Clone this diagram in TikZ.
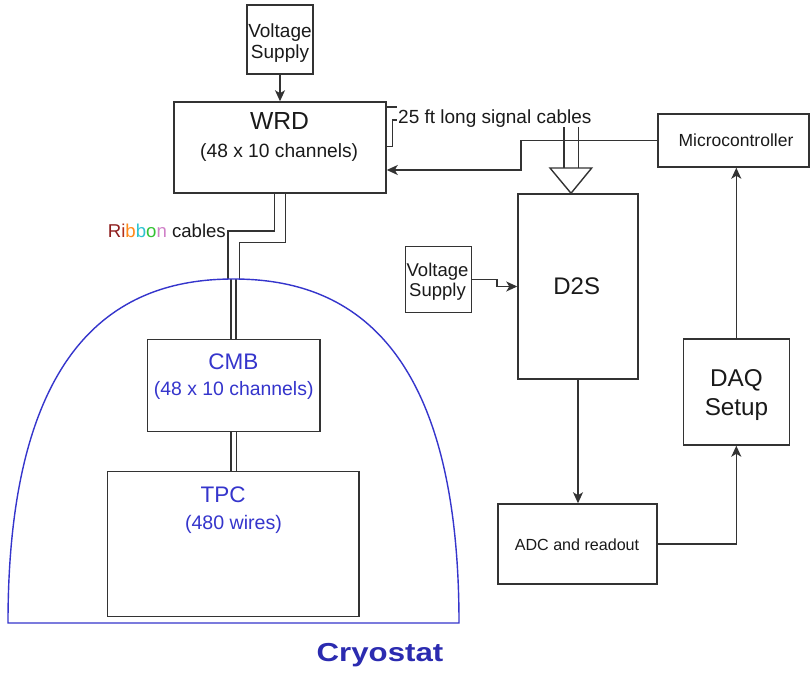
\documentclass[tikz,border=0pt]{standalone}
\usepackage{fontspec}
\setmainfont{Liberation Sans}
\usepackage{graphicx}
\usetikzlibrary{arrows.meta,calc}
\definecolor{Ink}{HTML}{1A1A1A}
\definecolor{Edge}{HTML}{333333}
\definecolor{CryoBlue}{HTML}{3535CC}
\definecolor{TitleBlue}{HTML}{2B2BB0}
\definecolor{RibR}{HTML}{8E1E1E}
\definecolor{RibI}{HTML}{B0301C}
\definecolor{RibB}{HTML}{FF8A1A}
\definecolor{RibC}{HTML}{2EC4D0}
\definecolor{RibG}{HTML}{33C233}
\definecolor{RibP}{HTML}{D080C8}
\newcommand\fsz[1]{\fontsize{#1}{#1}\selectfont}
\tikzset{
  box/.style={draw=Edge, line width=1.5pt, fill=white, inner sep=0pt},
  txt/.style={anchor=base, inner sep=0pt, text=Ink},
  bluetxt/.style={anchor=base, inner sep=0pt, text=CryoBlue},
  flow/.style={-{Stealth[length=11pt,width=10pt,inset=3pt]}, line width=1.4pt, draw=Edge},
  cable/.style={line width=1.4pt, draw=Edge},
  ribbon/.style={cable, double=white, double distance=10pt},
  thinribbon/.style={cable, double=white, double distance=3.8pt}
}

\begin{document}
\begin{tikzpicture}[x=1pt,y=-1pt]
  \useasboundingbox[fill=white] (0,0) rectangle (811,674);

  \coordinate (cryotop) at (233.5,279);

  \node[box, minimum width=66, minimum height=69] (vtop) at (280,39.5) {};
  \node[box, minimum width=212, minimum height=91] (wrd) at (280,147.5) {};
  \node[box, minimum width=151, minimum height=53] (micro) at (733.5,140.5) {};
  \node[box, minimum width=120, minimum height=185] (d2s) at (578,286.5) {};
  \node[box, minimum width=66, minimum height=66] (vright) at (438.7,279.7) {};
  \node[box, minimum width=106, minimum height=106] (daq) at (736.3,392) {};
  \node[box, minimum width=159, minimum height=80] (adc) at (577.5,544) {};
  \node[box, minimum width=172.7, minimum height=92.4] (cmb) at (233.7,385.5) {};
  \node[box, minimum width=251.3, minimum height=145.4] (tpc) at (233.3,544) {};

  \draw[ribbon] (wrd.south) |- ($(cryotop)+(0,-42.3)$) -- (cryotop);
  \draw[thinribbon] (cryotop) -- (cryotop |- cmb.north);
  \draw[thinribbon] (cmb.south) -- (cmb.south |- tpc.north);
  \draw[draw=CryoBlue, line width=1.4pt] (8,623) .. controls (8,330) and (130,279) .. (cryotop)
    .. controls (337,279) and (459,330) .. (459,623) -- cycle;

  \draw[cable] (wrd.east |- 0,107) -- (578.3,107) -- (578.3,168);
  \draw[cable] (wrd.east |- 0,146.7) -- (392.7,146.7) -- (392.7,120) -- (564,120) -- (564,168);
  \node[txt, anchor=base west, font=\fsz{19}, fill=white, inner xsep=1pt,
    text height=17.5pt, text depth=4pt] (siglbl) at (397,123.3) {25 ft long signal cables};
  \coordinate (sigtip) at (d2s.north -| 571,0);
  \draw[cable, fill=white] (550,168) -- (591.7,168) -- (sigtip) -- cycle;

  \draw[flow] (vtop) -- (wrd);
  \draw[flow] (micro.west) -- (521,140.5) |- (wrd.east |- 0,170);
  \draw[flow] (vright.east) -| ($(vright.east)!0.55!(d2s.west)$) |- (d2s.west);
  \draw[flow] (d2s.south) -- (d2s.south |- adc.north);
  \draw[flow] (adc.east) -| (daq.south);
  \draw[flow] (daq.north) -- (daq.north |- micro.south);

  \node[txt, font=\fsz{19}] (vtop1) at (280,37.3) {Voltage};
  \node[txt, font=\fsz{19}] (vtop2) at (280,58.3) {Supply};
  \node[txt, font=\fsz{24.7}] (wrd1) at (279.5,129.3) {WRD};
  \node[txt, font=\fsz{19.2}] (wrd2) at (279.2,157.7) {(48 x 10 channels)};
  \node[txt, font=\fsz{17.5}] (micro1) at (736,146.7) {Microcontroller};
  \node[txt, font=\fsz{24}] (d2s1) at (576.7,294.3) {D2S};
  \node[txt, font=\fsz{18.5}] (vright1) at (437.5,276.7) {Voltage};
  \node[txt, font=\fsz{18.5}] (vright2) at (437.5,296.7) {Supply};
  \node[txt, font=\fsz{24.3}] (daq1) at (736.5,386) {DAQ};
  \node[txt, font=\fsz{24.3}] (daq2) at (736.5,415) {Setup};
  \node[txt, font=\fsz{16.1}] (adc1) at (577,550.7) {ADC and readout};
  \node[bluetxt, font=\fsz{22.5}] (cmb1) at (233.3,369.3) {CMB};
  \node[bluetxt, font=\fsz{19.4}] (cmb2) at (233.7,395) {(48 x 10 channels)};
  \node[bluetxt, font=\fsz{22.5}] (tpc1) at (223,502) {TPC};
  \node[bluetxt, font=\fsz{19.6}] (tpc2) at (233.5,529) {(480 wires)};
  \node[txt, anchor=base east, font=\fsz{18.6}] (riblbl) at (226,237.7)
    {{\color{RibR}R}{\color{RibI}i}{\color{RibB}b}{\color{RibC}b}{\color{RibG}o}{\color{RibP}n} cables};
  \node[anchor=base, inner sep=0pt, font=\fsz{26}\bfseries, text=TitleBlue] (cryolbl) at (380,661)
    {\scalebox{1.2}[1]{Cryostat}};
\end{tikzpicture}
\end{document}
